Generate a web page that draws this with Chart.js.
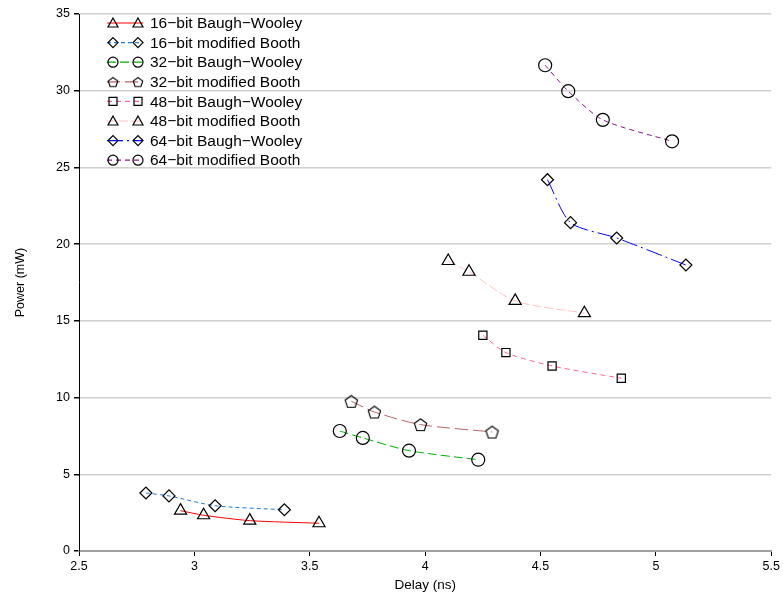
<!DOCTYPE html>
<html>
<head>
<meta charset="utf-8">
<script src="https://cdn.jsdelivr.net/npm/chart.js@4/dist/chart.umd.min.js"></script>
<style>
  html, body { margin: 0; padding: 0; background: #fff; }
  #wrap { width: 783px; height: 597px; }
</style>
</head>
<body>
<div id="wrap"><canvas id="c" width="783" height="597"></canvas></div>
<script>
// values: delay (ns) / power (mW)
const labels = [
  "16\u2212bit Baugh\u2212Wooley", "16\u2212bit modified Booth",
  "32\u2212bit Baugh\u2212Wooley", "32\u2212bit modified Booth",
  "48\u2212bit Baugh\u2212Wooley", "48\u2212bit modified Booth",
  "64\u2212bit Baugh\u2212Wooley", "64\u2212bit modified Booth"
];
const bw16Delay = [2.94, 3.04, 3.24, 3.54];
const bw16Power = [2.63, 2.33, 1.98, 1.81];
const mb16Delay = [2.79, 2.89, 3.09, 3.39];
const mb16Power = [3.78, 3.59, 2.95, 2.69];
const bw32Delay = [3.63, 3.73, 3.93, 4.23];
const bw32Power = [7.82, 7.37, 6.54, 5.95];
const mb32Delay = [3.68, 3.78, 3.98, 4.29];
const mb32Power = [9.76, 9.06, 8.24, 7.76];
const bw48Delay = [4.25, 4.35, 4.55, 4.85];
const bw48Power = [14.06, 12.93, 12.06, 11.26];
const mb48Delay = [4.10, 4.19, 4.39, 4.69];
const mb48Power = [18.9, 18.2, 16.3, 15.5];
const bw64Delay = [4.53, 4.63, 4.83, 5.13];
const bw64Power = [24.2, 21.4, 20.4, 18.64];
const mb64Delay = [4.52, 4.62, 4.77, 5.07];
const mb64Power = [31.66, 29.97, 28.1, 26.7];
const xTicks = [2.5, 3, 3.5, 4, 4.5, 5, 5.5];

const FONT = '"Liberation Sans", Arial, sans-serif';

function pts(xs, ys) { return xs.map((x, i) => ({ x: x, y: ys[i] })); }

// pentagon marker (no built-in style)
function pentagon(r) {
  const s = Math.ceil(r * 2 + 4);
  const cv = document.createElement('canvas');
  cv.width = s; cv.height = s;
  const c = cv.getContext('2d');
  c.strokeStyle = '#000';
  c.lineWidth = 1.1;
  c.beginPath();
  for (let k = 0; k < 5; k++) {
    const a = -Math.PI / 2 + k * 2 * Math.PI / 5;
    const px = s / 2 + r * Math.cos(a), py = s / 2 + 0.7 + r * Math.sin(a);
    if (k === 0) c.moveTo(px, py); else c.lineTo(px, py);
  }
  c.closePath();
  c.stroke();
  return cv;
}
const pentaBig = pentagon(6.5);
const pentaSmall = pentagon(5);

const styles = [
  { color: '#ff0000', dash: [], point: 'triangle', r: 7 },
  { color: '#1e7ad6', dash: [4, 3], point: 'rectRot', r: 6 },
  { color: '#00b000', dash: [9, 4], point: 'circle', r: 6.5 },
  { color: '#b96464', dash: [13, 5], point: 'penta', r: 6.5 },
  { color: '#ff6688', dash: [5, 4], point: 'rect', r: 5.8 },
  { color: '#ffc4c4', dash: [9, 3], point: 'triangle', r: 7 },
  { color: '#0000ff', dash: [16, 4, 2, 4], point: 'rectRot', r: 6 },
  { color: '#8b1a8b', dash: [5, 4], point: 'circle', r: 6.5 }
];
const series = [
  pts(bw16Delay, bw16Power), pts(mb16Delay, mb16Power),
  pts(bw32Delay, bw32Power), pts(mb32Delay, mb32Power),
  pts(bw48Delay, bw48Power), pts(mb48Delay, mb48Power),
  pts(bw64Delay, bw64Power), pts(mb64Delay, mb64Power)
];

const datasets = series.map((d, i) => ({
  label: labels[i],
  data: d,
  showLine: true,
  borderColor: styles[i].color,
  borderWidth: 1,
  borderDash: styles[i].dash,
  tension: 0.25,
  pointStyle: styles[i].point === 'penta' ? pentaBig : styles[i].point,
  pointRadius: styles[i].r,
  pointBorderColor: '#000',
  pointBackgroundColor: 'rgba(0,0,0,0)',
  pointBorderWidth: 1.2
}));

function marker(ctx, st, x, y) {
  if (st.point === 'penta') {
    ctx.drawImage(pentaSmall, x - pentaSmall.width / 2, y - pentaSmall.height / 2);
    return;
  }
  ctx.save();
  ctx.setLineDash([]);
  ctx.strokeStyle = '#000';
  ctx.lineWidth = 1.2;
  const r = 5;
  ctx.beginPath();
  if (st.point === 'triangle') {
    ctx.moveTo(x, y - r); ctx.lineTo(x + r, y + r * 0.8); ctx.lineTo(x - r, y + r * 0.8); ctx.closePath();
  } else if (st.point === 'rectRot') {
    ctx.moveTo(x, y - r); ctx.lineTo(x + r, y); ctx.lineTo(x, y + r); ctx.lineTo(x - r, y); ctx.closePath();
  } else if (st.point === 'circle') {
    ctx.arc(x, y, r, 0, Math.PI * 2);
  } else if (st.point === 'rect') {
    ctx.rect(x - 4, y - 4, 8, 8);
  }
  ctx.stroke();
  ctx.restore();
}

const legendPlugin = {
  id: 'lineLegend',
  afterDraw(chart) {
    const ctx = chart.ctx;
    ctx.save();
    ctx.font = '15.5px ' + FONT;
    ctx.textBaseline = 'middle';
    ctx.fillStyle = '#000';
    labels.forEach((lab, i) => {
      const y = 23 + i * 19.6;
      const st = styles[i];
      ctx.strokeStyle = st.color;
      ctx.lineWidth = 1.2;
      ctx.setLineDash(st.dash);
      ctx.beginPath();
      ctx.moveTo(107, y); ctx.lineTo(143, y);
      ctx.stroke();
      ctx.setLineDash([]);
      marker(ctx, st, 113, y);
      marker(ctx, st, 138, y);
      ctx.fillText(lab, 150, y + 1);
    });
    ctx.restore();
  }
};

new Chart(document.getElementById('c'), {
  type: 'scatter',
  data: { datasets: datasets },
  plugins: [legendPlugin],
  options: {
    responsive: false,
    animation: false,
    layout: { padding: { top: 14, right: 10, left: 0, bottom: 0 } },
    plugins: { legend: { display: false }, tooltip: { enabled: false } },
    scales: {
      x: {
        type: 'linear', min: 2.5, max: 5.5,
        afterBuildTicks: (s) => { s.ticks = xTicks.map(v => ({ value: v })); },
        afterFit: (s) => { s.height = 46; },
        grid: { drawOnChartArea: false, tickLength: 5, tickColor: '#000' },
        border: { color: '#a0a0a0', width: 2 },
        ticks: { color: '#000', font: { family: FONT, size: 12.5 }, padding: 3, maxRotation: 0, callback: (v) => String(v) },
        title: { display: true, text: 'Delay (ns)', color: '#000', font: { family: FONT, size: 13.5 }, padding: { top: 5 } }
      },
      y: {
        type: 'linear', min: 0, max: 35,
        ticks: { stepSize: 5, color: '#000', font: { family: FONT, size: 12.5 }, padding: 4 },
        afterFit: (s) => { s.width = 79; },
        grid: { color: (c) => c.tick && c.tick.value === 0 ? 'rgba(0,0,0,0)' : '#d0d0d0', lineWidth: 1.5, tickLength: 5, tickColor: '#000' },
        border: { color: '#000', width: 1 },
        title: { display: true, text: 'Power (mW)', color: '#000', font: { family: FONT, size: 12.5 }, padding: { top: 13, bottom: 0 } }
      }
    }
  }
});
</script>
</body>
</html>
